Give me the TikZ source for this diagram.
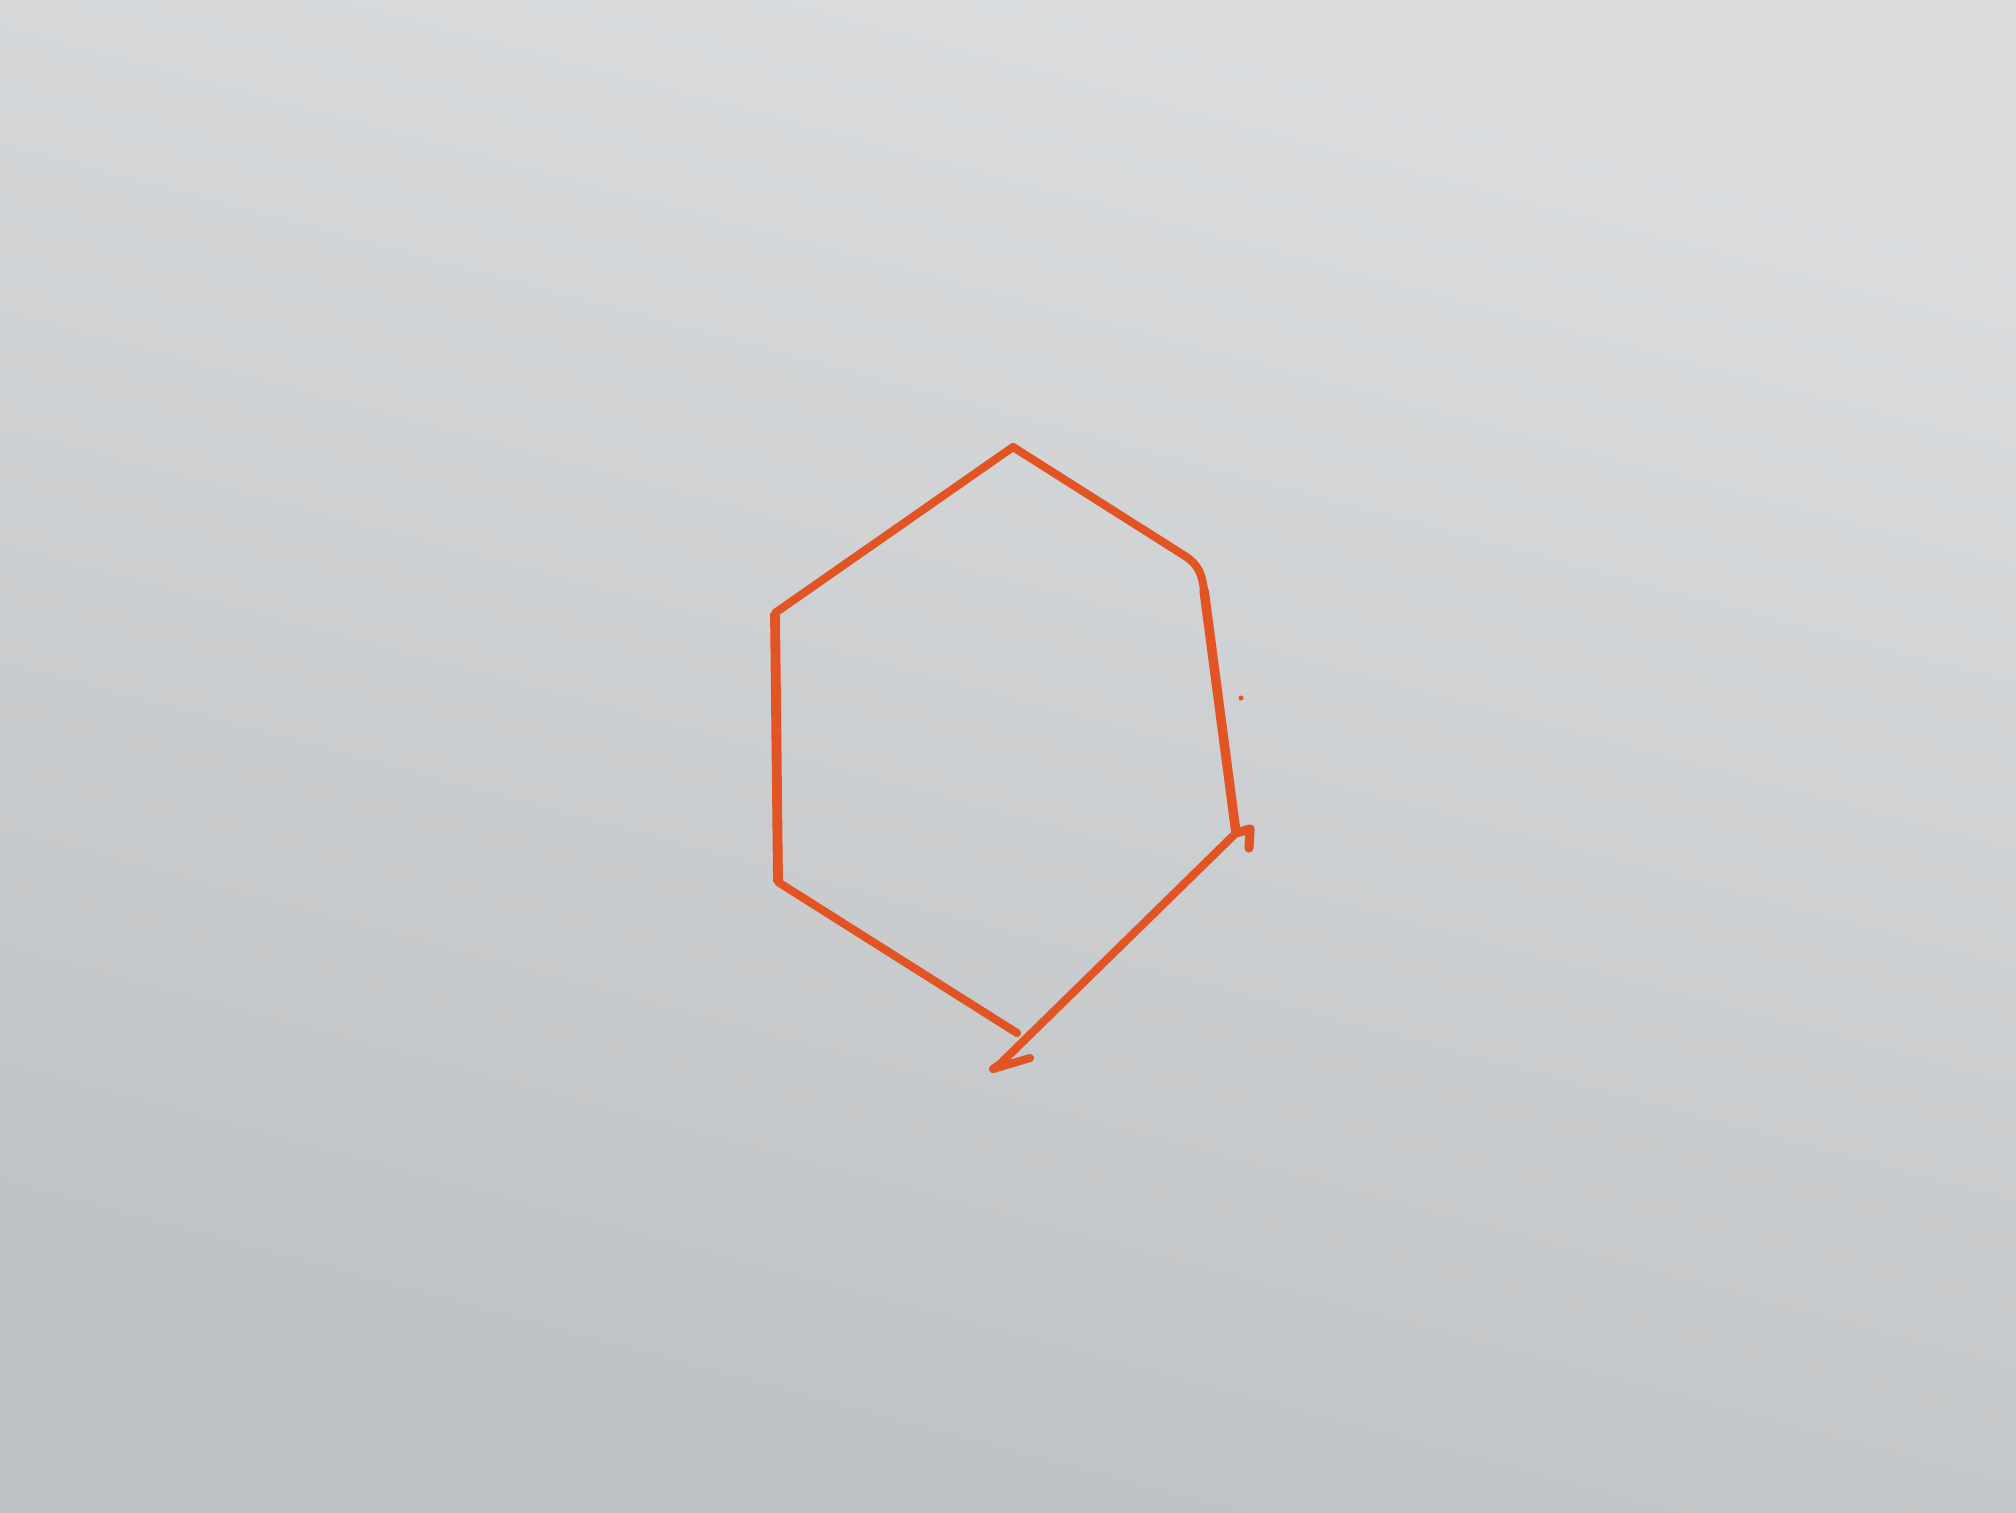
\documentclass[tikz,border=0pt]{standalone}
\usetikzlibrary{calc}
\definecolor{papertop}{RGB}{219,221,223}
\definecolor{papermid}{RGB}{200,203,204}
\definecolor{paperbot}{RGB}{190,193,195}
\definecolor{ink}{RGB}{226,84,36}
\begin{document}
\begin{tikzpicture}[x=0.01cm,y=-0.01cm,
  pen/.style={draw=ink,line width=2.3pt,line cap=round,line join=round}]
\useasboundingbox (0,0) rectangle (2016,1512);
\shade[top color=papertop,middle color=papermid,bottom color=paperbot,shading angle=-15] (0,0) rectangle (2016,1512);
% vertices
\coordinate (T) at (1013,447);
\coordinate (UR) at (1204,590);
\coordinate (LR) at (1236,833);
\coordinate (BL) at (1017,1033);
\coordinate (LL) at (778,882);
\coordinate (UL) at (775,613);
% left stroke
\draw[pen] (T) -- (UL) -- (LL) -- (BL);
\draw[pen,line width=2.8pt,line cap=butt] (UL) -- (LL);
% right stroke
\draw[pen] (T) -- (1185,556) .. controls (1199,565) and (1202,575) .. (UR) -- (LR) -- (1000,1064) -- (993,1069) -- (1030,1058);
\draw[pen,line width=2.7pt,line cap=butt] (UR) -- (LR);
% small blob at lower right corner
\draw[pen,line width=2.6pt] (1236,833) -- (1250,829) -- (1249,848);
% stray ink dot
\fill[ink] (1241,698) circle (2.5);
\end{tikzpicture}
\end{document}
